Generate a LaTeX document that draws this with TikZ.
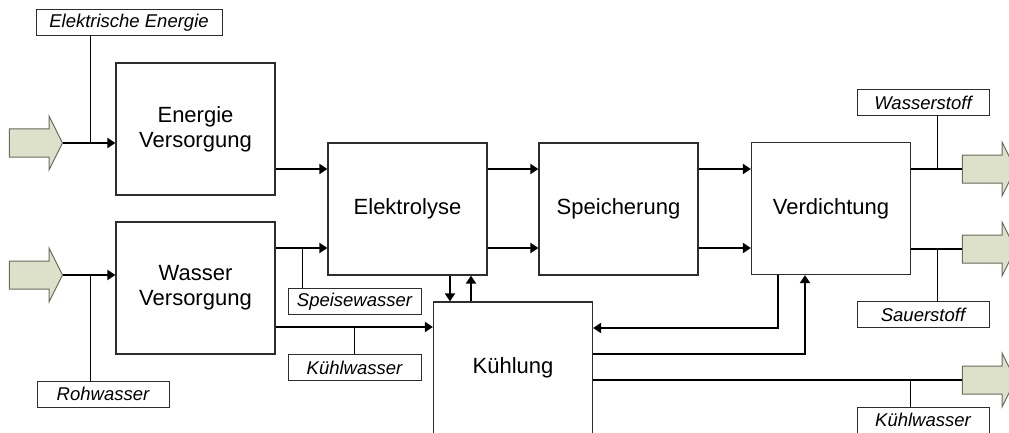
\documentclass[tikz,border=0pt]{standalone}
\usepackage{fontspec}
\setmainfont{Liberation Sans}
\usetikzlibrary{arrows.meta,shapes.arrows}
\definecolor{arrowfill}{RGB}{221,225,202}
\definecolor{arrowdraw}{RGB}{105,108,92}
\definecolor{boxdraw}{RGB}{45,45,45}
\tikzset{
 mainbox/.style={draw=boxdraw, line width=1.2pt, minimum width=159pt, minimum height=132pt, inner sep=0pt, align=center, font=\fontsize{22}{25}\selectfont},
 labelbox/.style={draw=boxdraw, line width=1pt, minimum width=132pt, minimum height=26pt, inner sep=0pt, font=\fontsize{18.5}{20}\selectfont\itshape},
 flow/.style={line width=2pt, -{Triangle[length=8pt,width=10pt]}},
 plainflow/.style={line width=2pt},
 stub/.style={line width=1pt},
 bigarrow/.style={single arrow, draw=arrowdraw, fill=arrowfill, line width=1pt, minimum height=53pt, single arrow head extend=12.5pt, single arrow tip angle=127, inner xsep=0pt, inner ysep=13.5pt},
}
\begin{document}
\begin{tikzpicture}[x=1pt,y=-1pt]
\useasboundingbox (0,0) rectangle (1009,433);
\fill[white] (0,0) rectangle (1009,433);
\clip (0,0) rectangle (1009,433);

% main boxes
\node[mainbox] (EV) at (195.5,129) {Energie\\Versorgung};
\node[mainbox] (WV) at (195.5,288) {Wasser\\Versorgung};
\node[mainbox] (EL) at (407.5,209) {Elektrolyse};
\node[mainbox] (SP) at (618.5,209) {Speicherung};
\node[mainbox] (VD) at (831,208.5) {Verdichtung};
\node[mainbox] (KU) at (513,368) {Kühlung};

% labels
\node[labelbox, minimum width=186pt] (EE) at (129,23) {Elektrische Energie};
\node[labelbox] (RW) at (103,394) {Rohwasser};
\node[labelbox, minimum width=133pt] (SW) at (354.5,301.5) {Speisewasser};
\node[labelbox, minimum width=133pt] (KW1) at (354.5,367.5) {Kühlwasser};
\node[labelbox] (WS) at (923,103) {Wasserstoff};
\node[labelbox] (SO) at (923,314.5) {Sauerstoff};
\node[labelbox] (KW2) at (923,420) {Kühlwasser};

% big arrows
\node[bigarrow, anchor=tip] (in1) at (63,143) {};
\node[bigarrow, anchor=tip] (in2) at (63,275) {};
\node[bigarrow, anchor=tip] (out1) at (1016,169) {};
\node[bigarrow, anchor=tip] (out2) at (1016,249) {};
\node[bigarrow, anchor=tip] (out3) at (1016,380) {};

% junction points on the flows
\coordinate (jEE) at (90,143);
\coordinate (jRW) at (90,275);
\coordinate (jSW) at (302,248);
\coordinate (jKW1) at (354.5,327);
\coordinate (jWS) at (937,169);
\coordinate (jSO) at (937,249);
\coordinate (jKW2) at (910,380);

% inputs
\draw[flow] (in1.tip) -- (in1.tip -| EV.west);
\draw[stub] (EE.south -| jEE) -- (jEE);
\draw[flow] (in2.tip) -- (in2.tip -| WV.west);
\draw[stub] (jRW) -- (RW.north -| jRW);

% supply to electrolysis
\draw[flow] (EV.east |- 0,169) -- (EL.west |- 0,169);
\draw[flow] (WV.east |- jSW) -- (EL.west |- jSW);
\draw[stub] (jSW) -- (SW.north -| jSW);
\draw[flow] (WV.east |- jKW1) -- (KU.west |- jKW1);
\draw[stub] (jKW1) -- (KW1.north);

% electrolysis <-> cooling
\draw[flow] (EL.south -| 450,0) -- (KU.north -| 450,0);
\draw[flow] (KU.north -| 471,0) -- (EL.south -| 471,0);

% chain
\draw[flow] (EL.east |- 0,169) -- (SP.west |- 0,169);
\draw[flow] (EL.east |- 0,248) -- (SP.west |- 0,248);
\draw[flow] (SP.east |- 0,169) -- (VD.west |- 0,169);
\draw[flow] (SP.east |- 0,248) -- (VD.west |- 0,248);

% outputs
\draw[plainflow] (VD.east |- out1.tail) -- (out1.tail);
\draw[stub] (WS.south -| jWS) -- (jWS);
\draw[plainflow] (VD.east |- out2.tail) -- (out2.tail);
\draw[stub] (jSO) -- (SO.north -| jSO);

% cooling loop with compression
\draw[flow] (VD.south -| 778,0) |- (KU.east |- 0,328);
\draw[flow] (KU.east |- 0,354) -| (VD.south -| 805,0);
\draw[plainflow] (KU.east |- out3.tail) -- (out3.tail);
\draw[stub] (jKW2) -- (KW2.north -| jKW2);
\end{tikzpicture}
\end{document}
